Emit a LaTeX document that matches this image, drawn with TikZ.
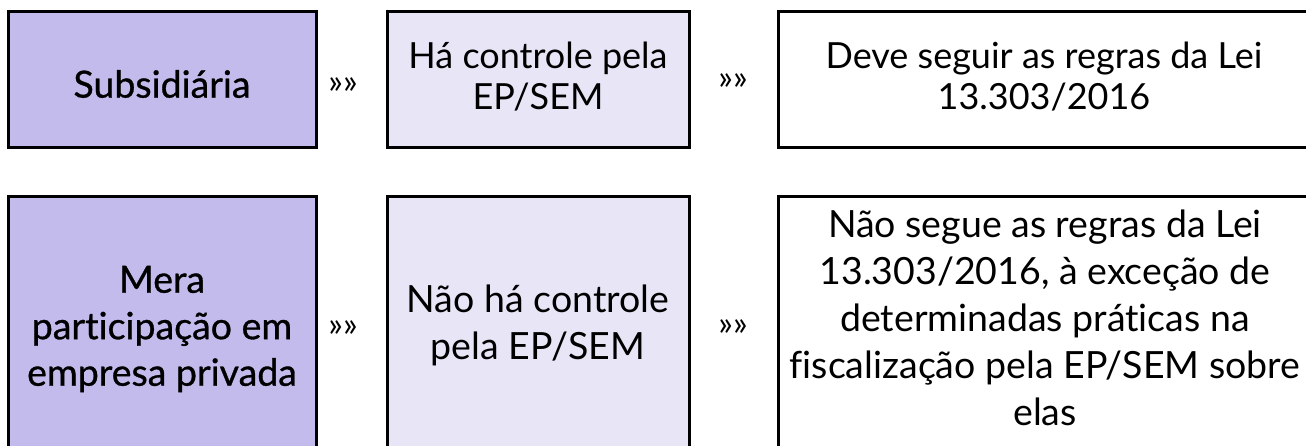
\documentclass[tikz,border=0pt]{standalone}
\usepackage{fontspec}
\setmainfont{Lato}[Ligatures=NoCommon]
\definecolor{boxdark}{HTML}{C3BBEC}
\definecolor{boxlight}{HTML}{E8E5F7}
\begin{document}
\begin{tikzpicture}[x=1pt,y=-1pt,
  box/.style={draw=black, line width=3pt, rectangle, inner sep=0pt, outer sep=0pt},
  txt/.style={align=center, inner sep=0pt, text=black, font=\fontsize{37.5}{47}\selectfont},
  txttop/.style={txt, font=\fontsize{36}{41}\selectfont},
  heavy/.style={font=\fontsize{37.5}{46.5}\selectfont\addfontfeature{FakeBold=0.8}},
  sepmark/.style={inner sep=0pt, font=\fontsize{34}{34}\selectfont}]
\useasboundingbox (0,0) rectangle (1306,445);
\clip (0,0) rectangle (1306,445);
% top row
\node[box, fill=boxdark, minimum width=308pt, minimum height=136pt] (a1) at (162,79) {};
\node[box, fill=boxlight, minimum width=302pt, minimum height=136pt] (a2) at (538,79) {};
\node[box, fill=white, minimum width=537pt, minimum height=136pt] (a3) at (1046.5,79) {};
% bottom row
\node[box, fill=boxdark, minimum width=308pt, minimum height=264pt] (b1) at (162,328) {};
\node[box, fill=boxlight, minimum width=302pt, minimum height=264pt] (b2) at (538,328) {};
\node[box, fill=white, minimum width=537pt, minimum height=264pt] (b3) at (1046.5,328) {};
% texts
\node[txt, heavy] (ta1) at (162,84) {Subsidiária};
\node[txttop] (ta2) at (538,77) {Há controle pela\\EP/SEM};
\node[txttop] (ta3) at (1044,77) {Deve seguir as regras da Lei\\13.303/2016};
\node[txt, heavy] (tb1) at (162,329) {Mera\\participação em\\empresa privada};
\node[txt] (tb2) at (538,325) {Não há controle\\pela EP/SEM};
\node[txt] (tb3) at (1045,318) {Não segue as regras da Lei\\13.303/2016, à exceção de\\determinadas práticas na\\fiscalização pela EP/SEM sobre\\elas};
% separators
\node[sepmark] (sa1) at (343,86) {»»};
\node[sepmark] (sa2) at (733,82) {»»};
\node[sepmark] (sb1) at (343,329) {»»};
\node[sepmark] (sb2) at (733,328) {»»};
\end{tikzpicture}
\end{document}
